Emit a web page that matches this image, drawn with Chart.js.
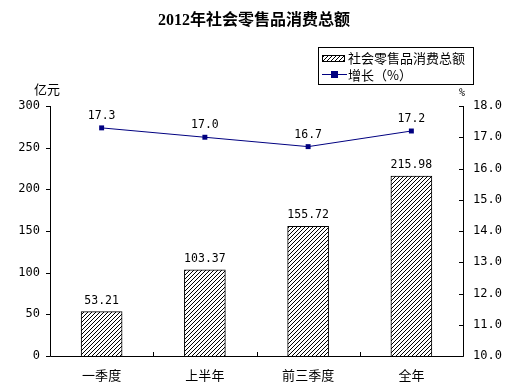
<!DOCTYPE html>
<html>
<head>
<meta charset="utf-8">
<script src="https://cdn.jsdelivr.net/npm/chart.js@4"></script>
<style>
  body { margin: 0; background: #fff; }
  #wrap { width: 520px; height: 384px; }
</style>
</head>
<body>
<div id="wrap"><canvas id="myChart" width="520" height="384"></canvas></div>
<script>
const categories = ['一季度', '上半年', '前三季度', '全年'];
const salesValues = [53.21, 103.37, 155.72, 215.98];
const growthValues = [17.3, 17.0, 16.7, 17.2];
const leftTicks = [0, 50, 100, 150, 200, 250, 300];
const rightTicks = [10, 11, 12, 13, 14, 15, 16, 17, 18];

const NUM = '"DejaVu Sans Mono", monospace';
const CJK = '"Noto Sans CJK SC", sans-serif';

function hatch() {
  const c = document.createElement('canvas');
  c.width = 4; c.height = 4;
  const g = c.getContext('2d');
  g.fillStyle = '#fff';
  g.fillRect(0, 0, 4, 4);
  g.strokeStyle = '#000';
  g.lineWidth = 1;
  g.beginPath();
  g.moveTo(0, 4); g.lineTo(4, 0);
  g.moveTo(-1, 1); g.lineTo(1, -1);
  g.moveTo(3, 5); g.lineTo(5, 3);
  g.stroke();
  return g.createPattern(c, 'repeat');
}
const pat = hatch();

const decor = {
  id: 'decor',
  afterDraw(chart) {
    const ctx = chart.ctx;
    const a = chart.chartArea;
    const yl = chart.scales.y, yr = chart.scales.y2, x = chart.scales.x;
    ctx.save();
    ctx.strokeStyle = '#000';
    ctx.lineWidth = 1;
    // axes
    ctx.beginPath();
    ctx.moveTo(a.left + 0.5, a.top); ctx.lineTo(a.left + 0.5, a.bottom + 0.5);
    ctx.lineTo(a.right + 0.5, a.bottom + 0.5); ctx.lineTo(a.right + 0.5, a.top);
    leftTicks.forEach(v => {
      const py = Math.round(yl.getPixelForValue(v)) + 0.5;
      ctx.moveTo(a.left - 4, py); ctx.lineTo(a.left + 0.5, py);
    });
    rightTicks.forEach(v => {
      const py = Math.round(yr.getPixelForValue(v)) + 0.5;
      ctx.moveTo(a.right - 4, py); ctx.lineTo(a.right + 0.5, py);
    });
    const step = (a.right - a.left) / categories.length;
    for (let i = 1; i < categories.length; i++) {
      const px = Math.round(a.left + step * i) + 0.5;
      ctx.moveTo(px, a.bottom); ctx.lineTo(px, a.bottom - 4);
    }
    ctx.stroke();

    ctx.fillStyle = '#000';
    ctx.font = '12px ' + NUM;
    ctx.textBaseline = 'middle';
    ctx.textAlign = 'right';
    leftTicks.forEach(v => ctx.fillText(String(v), a.left - 10, yl.getPixelForValue(v)));
    ctx.textAlign = 'left';
    rightTicks.forEach(v => ctx.fillText(v.toFixed(1), a.right + 10, yr.getPixelForValue(v)));
    ctx.textAlign = 'center';
    ctx.font = '13px ' + CJK;
    categories.forEach((c, i) => ctx.fillText(c, x.getPixelForValue(i), a.bottom + 19));

    // unit labels
    ctx.fillText('亿元', 47, 89);
    ctx.font = '10px ' + NUM;
    ctx.fillText('%', 462, 93);

    // data labels
    ctx.font = '11.5px ' + NUM;
    ctx.textBaseline = 'bottom';
    chart.getDatasetMeta(0).data.forEach((el, i) => {
      ctx.fillText(salesValues[i].toFixed(2), el.x, el.y - 5);
    });
    chart.getDatasetMeta(1).data.forEach((el, i) => {
      ctx.fillText(growthValues[i].toFixed(1), el.x, el.y - 6);
    });

    // title
    ctx.font = 'bold 16px "Liberation Serif", ' + CJK;
    ctx.textBaseline = 'middle';
    ctx.fillText('2012年社会零售品消费总额', 254, 21);

    // legend
    ctx.strokeStyle = '#000';
    ctx.strokeRect(318.5, 47.5, 155, 37);
    ctx.fillStyle = pat;
    ctx.fillRect(322, 55, 23, 7);
    ctx.strokeRect(322.5, 55.5, 22, 6);
    ctx.fillStyle = '#000';
    ctx.font = '13px ' + CJK;
    ctx.textAlign = 'left';
    ctx.fillText('社会零售品消费总额', 348, 58);
    ctx.strokeStyle = '#000080';
    ctx.beginPath();
    ctx.moveTo(322, 74.5); ctx.lineTo(347, 74.5);
    ctx.stroke();
    ctx.fillStyle = '#000080';
    ctx.fillRect(331, 71, 7, 7);
    ctx.fillStyle = '#000';
    ctx.fillText('增长（%）', 348, 75);
    ctx.restore();
  }
};

new Chart(document.getElementById('myChart').getContext('2d'), {
  type: 'bar',
  data: {
    labels: categories,
    datasets: [{
      type: 'bar',
      data: salesValues,
      backgroundColor: pat,
      borderColor: '#000',
      borderWidth: 1,
      barThickness: 41,
      yAxisID: 'y',
      order: 2
    }, {
      type: 'line',
      data: growthValues,
      borderColor: '#000080',
      borderWidth: 1,
      backgroundColor: '#000080',
      pointStyle: 'rect',
      pointRadius: 3.5,
      pointBorderWidth: 0,
      yAxisID: 'y2',
      order: 1
    }]
  },
  options: {
    responsive: false,
    animation: false,
    events: [],
    layout: { padding: { top: 106, left: 0, right: 0, bottom: 0 } },
    plugins: { legend: { display: false }, tooltip: { enabled: false }, title: { display: false } },
    scales: {
      x: {
        grid: { display: false },
        border: { display: false },
        ticks: { display: false },
        afterFit(s) { s.height = 28; }
      },
      y: {
        position: 'left',
        min: 0, max: 300,
        grid: { display: false },
        border: { display: false },
        ticks: { display: false, stepSize: 50 },
        afterFit(s) { s.width = 50; }
      },
      y2: {
        position: 'right',
        min: 10, max: 18,
        grid: { display: false },
        border: { display: false },
        ticks: { display: false, stepSize: 1 },
        afterFit(s) { s.width = 57; }
      }
    }
  },
  plugins: [decor]
});
</script>
</body>
</html>
